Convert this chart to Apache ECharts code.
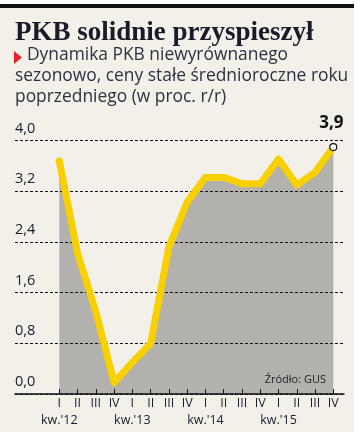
<!DOCTYPE html>
<html>
<head>
<meta charset="utf-8">
<script src="https://cdn.jsdelivr.net/npm/echarts@6/dist/echarts.min.js"></script>
<style>
html,body{margin:0;padding:0;background:#ffffff;}
#c{width:363px;height:432px;}
</style>
</head>
<body>
<div id="c"></div>
<script>
var quarters = ['I','II','III','IV','I','II','III','IV','I','II','III','IV','I','II','III','IV'];
var yearLabels = ["kw.'12", '', '', '', "kw.'13", '', '', '', "kw.'14", '', '', '', "kw.'15", '', '', ''];
var gdp = [3.68, 2.22, 1.30, 0.18, 0.50, 0.80, 2.32, 3.03, 3.42, 3.42, 3.32, 3.32, 3.71, 3.30, 3.50, 3.90];
var yTicks = [0, 0.8, 1.6, 2.4, 3.2, 4.0];

var chart = echarts.init(document.getElementById('c'), null, {renderer: 'canvas'});

var lineData = gdp.map(function (v, i) {
  if (i === gdp.length - 1) {
    return {
      value: v,
      symbol: 'circle',
      symbolSize: 7,
      itemStyle: {color: '#ffffff', borderColor: '#111111', borderWidth: 1.2},
      label: {
        show: true,
        position: 'top',
        distance: 11,
        offset: [-2, 0],
        formatter: function (p) { return p.value.toFixed(1).replace('.', ','); },
        fontFamily: 'Open Sans',
        fontWeight: 'bold',
        fontSize: 17,
        color: '#111111'
      }
    };
  }
  return v;
});

var option = {
  animation: false,
  backgroundColor: 'transparent',
  graphic: [
    {type: 'rect', z: -10, shape: {x: 0, y: 8, width: 354, height: 424}, style: {fill: '#f3f0ea'}},
    {type: 'rect', z: -9, shape: {x: 0, y: 4, width: 354, height: 4}, style: {fill: '#111111'}},
    {type: 'text', left: 15, top: 20, style: {text: 'PKB solidnie przyspieszył', font: 'bold 27px "Liberation Serif"', fill: '#1b1a28'}},
    {type: 'polygon', shape: {points: [[14, 51], [22, 57.5], [14, 64]]}, style: {fill: '#e3232a'}},
    {type: 'text', left: 27, top: 47, style: {text: 'Dynamika PKB niewyrównanego', font: '17.4px "Open Sans"', fill: '#30303f'}},
    {type: 'text', left: 15, top: 68, style: {text: 'sezonowo, ceny stałe średnioroczne roku', font: '17.4px "Open Sans"', fill: '#30303f'}},
    {type: 'text', left: 15, top: 89, style: {text: 'poprzedniego (w proc. r/r)', font: '17.4px "Open Sans"', fill: '#30303f'}},
    {type: 'text', right: 37, top: 374, z: 10, style: {text: 'Źródło: GUS', font: '11px "Open Sans"', fill: '#222222'}}
  ],
  grid: [
    {left: 15, right: 19, top: 140.7, bottom: 38},
    {left: 59.3, right: 29.7, top: 140.7, bottom: 38}
  ],
  xAxis: [
    {
      gridIndex: 0, type: 'value', min: 0, max: 1,
      axisLine: {show: true, lineStyle: {color: '#111111', width: 1.5}},
      axisTick: {show: false}, axisLabel: {show: false}, splitLine: {show: false}, z: 5
    },
    {
      gridIndex: 1, type: 'category', boundaryGap: false, data: quarters,
      axisLine: {show: false},
      axisTick: {show: true, inside: true, length: 5, interval: 0, lineStyle: {color: '#111111', width: 1}},
      axisLabel: {
        interval: 0, margin: 1, fontFamily: 'Open Sans', fontSize: 12.5, lineHeight: 17, color: '#1a1a2a',
        formatter: function (v, i) { return yearLabels[i] ? v + '\n' + yearLabels[i] : v; }
      },
      splitLine: {show: false}, z: 5
    }
  ],
  yAxis: [
    {
      gridIndex: 0, type: 'value', min: 0, max: 4, interval: 0.8, z: 2,
      axisLine: {show: false}, axisTick: {show: false},
      splitLine: {show: true, lineStyle: {color: '#111111', type: [3, 2], width: 1}},
      axisLabel: {
        inside: true, margin: 0, verticalAlign: 'bottom', fontFamily: 'Open Sans', fontSize: 14.5, lineHeight: 14,
        padding: [0, 0, 5, 0], color: '#1a1a2a',
        formatter: function (v) { return v.toFixed(1).replace('.', ','); }
      }
    },
    {
      gridIndex: 1, type: 'value', min: 0, max: 4, show: false
    }
  ],
  series: [
    {
      type: 'line', xAxisIndex: 1, yAxisIndex: 1, data: gdp, z: 1,
      symbol: 'none', lineStyle: {width: 0},
      areaStyle: {color: '#b2b1ad', opacity: 1}, silent: true
    },
    {
      type: 'line', xAxisIndex: 1, yAxisIndex: 1, data: lineData, z: 4,
      symbol: 'none', showSymbol: true,
      lineStyle: {color: '#f8d000', width: 7, cap: 'round', join: 'round'}
    }
  ]
};
chart.setOption(option);
</script>
</body>
</html>
